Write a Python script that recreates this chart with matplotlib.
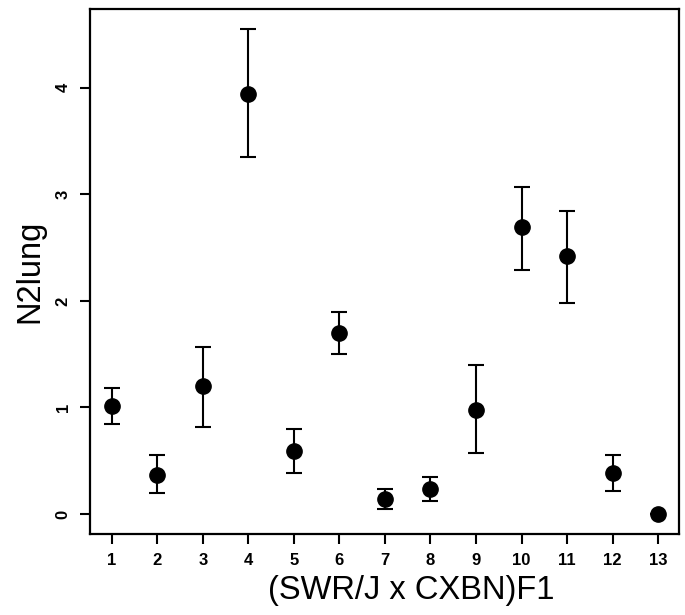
import numpy as np
import matplotlib.pyplot as plt

# strain index, mean N2lung and error bar ends
strains = np.arange(1, 14)
means = [1.01, 0.37, 1.20, 3.94, 0.59, 1.70, 0.14, 0.23, 0.98, 2.69, 2.42, 0.38, 0.0]
upper = [1.18, 0.55, 1.57, 4.55, 0.80, 1.90, 0.23, 0.35, 1.40, 3.07, 2.84, 0.55, 0.0]
lower = [0.84, 0.20, 0.82, 3.35, 0.38, 1.50, 0.05, 0.12, 0.57, 2.29, 1.98, 0.22, 0.0]
x_ticks = list(range(1, 14))
y_ticks = [0, 1, 2, 3, 4]

means = np.array(means)
yerr = np.vstack([means - np.array(lower), np.array(upper) - means])

fig = plt.figure(figsize=(6.85, 6.15), dpi=100)
ax = fig.add_axes([90 / 685, 81 / 615, 589 / 685, 525 / 615])

ax.errorbar(strains, means, yerr=yerr, fmt='o', color='black', markersize=11,
            elinewidth=1.5, capsize=5.5, capthick=1.5, zorder=3)

ax.set_xlim(0.52, 13.46)
ax.set_ylim(-0.188, 4.74)
ax.set_xticks(x_ticks)
ax.set_yticks(y_ticks)

tick_font = dict(family='Liberation Sans', weight='bold', size=12)
ax.set_xticklabels([str(t) for t in x_ticks], fontdict=tick_font)
ax.set_yticklabels([str(t) for t in y_ticks], fontdict=tick_font, rotation=90, va='center')
ax.tick_params(axis='both', length=7.5, width=1.5, color='black', pad=6.5)

for s in ax.spines.values():
    s.set_linewidth(1.6)

ax.set_xlabel('(SWR/J x CXBN)F1', family='Liberation Sans', fontsize=23.5, va='center')
ax.xaxis.set_label_coords(0.545, -0.107)
ax.set_ylabel('N2lung', family='Liberation Sans', fontsize=23.5, ha='center', va='center')
ax.yaxis.set_label_coords(-0.102, 0.5)

fig.savefig('out.png', dpi=100)
